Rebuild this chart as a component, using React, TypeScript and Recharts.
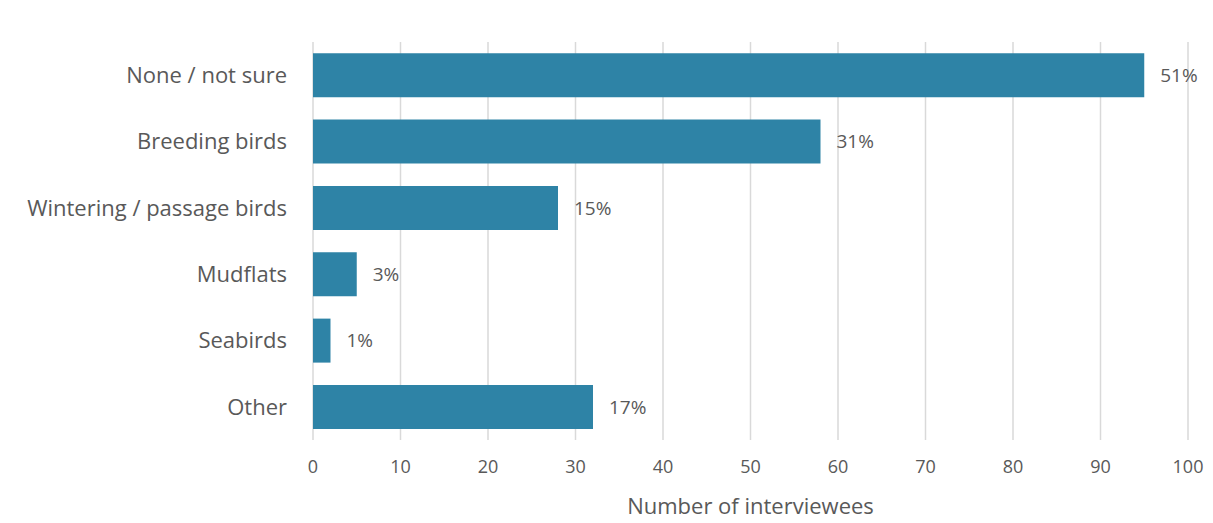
import { BarChart, Bar, XAxis, YAxis, CartesianGrid, LabelList, Label } from "recharts";

const categories = [
  "None / not sure",
  "Breeding birds",
  "Wintering / passage birds",
  "Mudflats",
  "Seabirds",
  "Other",
];
const interviewees = [95, 58, 28, 5, 2, 32];
const percentLabels = ["51%", "31%", "15%", "3%", "1%", "17%"];
const xTicks = [0, 10, 20, 30, 40, 50, 60, 70, 80, 90, 100];

const BAR_COLOR = "#2e83a6";
const TEXT_COLOR = "#595959";
const FONT = "'Open Sans', Lato, sans-serif";

export default function App() {
  const data = categories.map((name, i) => ({
    name,
    value: interviewees[i],
    pct: percentLabels[i],
  }));

  return (
    <div style={{ position: "absolute", left: 0, top: 0, background: "#fff", fontFamily: FONT }}>
      <BarChart
        width={1213}
        height={523}
        data={data}
        layout="vertical"
        margin={{ top: 42, right: 25, bottom: 0, left: 0 }}
        barCategoryGap="17%"
      >
        <CartesianGrid horizontal={false} stroke="#d9d9d9" strokeWidth={1.5} />
        <XAxis
          type="number"
          domain={[0, 100]}
          ticks={xTicks}
          axisLine={false}
          tickLine={false}
          tickMargin={14}
          height={83}
          tick={{ fill: TEXT_COLOR, fontSize: 18, fontFamily: FONT }}
        >
          <Label
            value="Number of interviewees"
            position="insideBottom"
            offset={9}
            style={{ fill: TEXT_COLOR, fontSize: 22, fontFamily: FONT }}
          />
        </XAxis>
        <YAxis
          type="category"
          dataKey="name"
          width={313}
          axisLine={false}
          tickLine={false}
          tickMargin={20}
          tick={{ fill: TEXT_COLOR, fontSize: 22, fontFamily: FONT }}
        />
        <Bar dataKey="value" fill={BAR_COLOR} isAnimationActive={false}>
          <LabelList
            dataKey="pct"
            position="right"
            offset={16}
            style={{ fill: TEXT_COLOR, fontSize: 19, fontFamily: FONT }}
          />
        </Bar>
      </BarChart>
    </div>
  );
}
